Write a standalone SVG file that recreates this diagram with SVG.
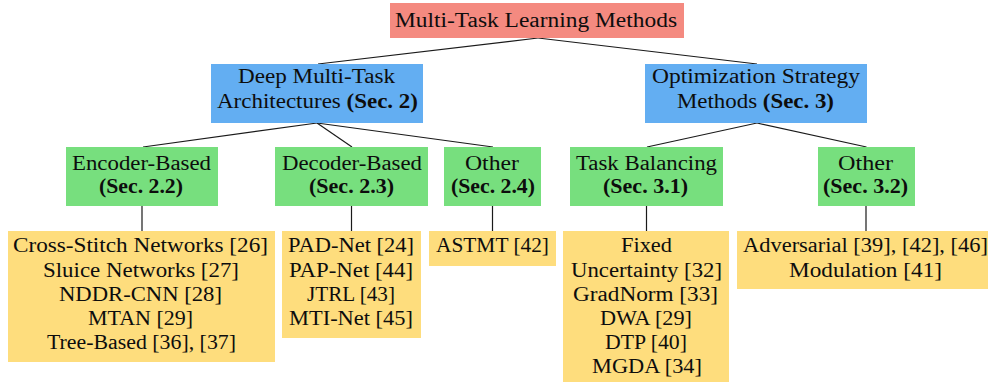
<svg xmlns="http://www.w3.org/2000/svg" width="992" height="383" viewBox="0 0 992 383">
<style>
text{font-family:"Liberation Serif","Times New Roman",serif;font-size:20px;fill:#0d0d0d;text-anchor:middle}
.b{font-weight:bold}
.root{fill:#F48A80}
.l2{fill:#63AEF2}
.l3{fill:#77DF7E}
.leaf{fill:#FEDD7D}
.c{stroke:#1a1a1a;stroke-width:1.2;fill:none}
</style>
<rect width="992" height="383" fill="#fff"/>
<g id="connectors">
<line class="c" x1="538" y1="38" x2="318" y2="64"/>
<line class="c" x1="538" y1="38" x2="757" y2="64"/>
<line class="c" x1="317" y1="123" x2="143" y2="147"/>
<line class="c" x1="317" y1="123" x2="352" y2="147"/>
<line class="c" x1="317" y1="123" x2="493" y2="147"/>
<line class="c" x1="757" y1="123" x2="647" y2="147"/>
<line class="c" x1="757" y1="123" x2="866.5" y2="147"/>
<line class="c" x1="142" y1="206" x2="142" y2="231"/>
<line class="c" x1="351.5" y1="206" x2="351.5" y2="231"/>
<line class="c" x1="492.5" y1="206" x2="492.5" y2="231"/>
<line class="c" x1="646.5" y1="206" x2="646.5" y2="231"/>
<line class="c" x1="866" y1="206" x2="866" y2="231"/>
</g>
<g id="root">
<rect class="root" x="390" y="3" width="294" height="35"/>
<text x="536" y="27" textLength="282" lengthAdjust="spacingAndGlyphs">Multi-Task Learning Methods</text>
</g>
<g id="deep">
<rect class="l2" x="211" y="64" width="212" height="59"/>
<text x="316.5" y="83" textLength="157" lengthAdjust="spacingAndGlyphs">Deep Multi-Task</text>
<text x="317.5" y="108" textLength="201" lengthAdjust="spacingAndGlyphs">Architectures <tspan class="b">(Sec. 2)</tspan></text>
</g>
<g id="opt">
<rect class="l2" x="645" y="64" width="222" height="59"/>
<text x="756" y="83" textLength="208" lengthAdjust="spacingAndGlyphs">Optimization Strategy</text>
<text x="755.5" y="108" textLength="157" lengthAdjust="spacingAndGlyphs">Methods <tspan class="b">(Sec. 3)</tspan></text>
</g>
<g id="encoder">
<rect class="l3" x="66" y="147" width="152" height="59"/>
<text x="141.5" y="170" textLength="139" lengthAdjust="spacingAndGlyphs">Encoder-Based</text>
<text class="b" x="141" y="193" textLength="84" lengthAdjust="spacingAndGlyphs">(Sec. 2.2)</text>
</g>
<g id="decoder">
<rect class="l3" x="275" y="147" width="153" height="59"/>
<text x="352" y="170" textLength="140" lengthAdjust="spacingAndGlyphs">Decoder-Based</text>
<text class="b" x="351.5" y="193" textLength="85" lengthAdjust="spacingAndGlyphs">(Sec. 2.3)</text>
</g>
<g id="other24">
<rect class="l3" x="444" y="147" width="97" height="59"/>
<text x="492" y="170" textLength="54" lengthAdjust="spacingAndGlyphs">Other</text>
<text class="b" x="493" y="193" textLength="84" lengthAdjust="spacingAndGlyphs">(Sec. 2.4)</text>
</g>
<g id="taskbal">
<rect class="l3" x="570" y="147" width="153" height="59"/>
<text x="646.5" y="170" textLength="141" lengthAdjust="spacingAndGlyphs">Task Balancing</text>
<text class="b" x="645.5" y="193" textLength="85" lengthAdjust="spacingAndGlyphs">(Sec. 3.1)</text>
</g>
<g id="other32">
<rect class="l3" x="818" y="147" width="97" height="59"/>
<text x="865.5" y="170" textLength="55" lengthAdjust="spacingAndGlyphs">Other</text>
<text class="b" x="865.5" y="193" textLength="85" lengthAdjust="spacingAndGlyphs">(Sec. 3.2)</text>
</g>
<g id="leaf-encoder">
<rect class="leaf" x="8" y="231" width="267" height="131"/>
<text x="140.5" y="252" textLength="255" lengthAdjust="spacingAndGlyphs">Cross-Stitch Networks [26]</text>
<text x="141" y="276.5" textLength="196" lengthAdjust="spacingAndGlyphs">Sluice Networks [27]</text>
<text x="140.5" y="301" textLength="163" lengthAdjust="spacingAndGlyphs">NDDR-CNN [28]</text>
<text x="140.5" y="325" textLength="105" lengthAdjust="spacingAndGlyphs">MTAN [29]</text>
<text x="141.5" y="349" textLength="189" lengthAdjust="spacingAndGlyphs">Tree-Based [36], [37]</text>
</g>
<g id="leaf-decoder">
<rect class="leaf" x="282" y="231" width="139" height="107"/>
<text x="351" y="252" textLength="126" lengthAdjust="spacingAndGlyphs">PAD-Net [24]</text>
<text x="351" y="276.5" textLength="124" lengthAdjust="spacingAndGlyphs">PAP-Net [44]</text>
<text x="351" y="301" textLength="88" lengthAdjust="spacingAndGlyphs">JTRL [43]</text>
<text x="351" y="325" textLength="124" lengthAdjust="spacingAndGlyphs">MTI-Net [45]</text>
</g>
<g id="leaf-other24">
<rect class="leaf" x="429" y="231" width="127" height="35"/>
<text x="492.5" y="252" textLength="113" lengthAdjust="spacingAndGlyphs">ASTMT [42]</text>
</g>
<g id="leaf-taskbal">
<rect class="leaf" x="563" y="231" width="166" height="151"/>
<text x="646.5" y="252" textLength="51" lengthAdjust="spacingAndGlyphs">Fixed</text>
<text x="646.5" y="276.5" textLength="151" lengthAdjust="spacingAndGlyphs">Uncertainty [32]</text>
<text x="645.5" y="301" textLength="145" lengthAdjust="spacingAndGlyphs">GradNorm [33]</text>
<text x="646" y="325" textLength="92" lengthAdjust="spacingAndGlyphs">DWA [29]</text>
<text x="646" y="349" textLength="82" lengthAdjust="spacingAndGlyphs">DTP [40]</text>
<text x="647" y="373" textLength="110" lengthAdjust="spacingAndGlyphs">MGDA [34]</text>
</g>
<g id="leaf-other32">
<rect class="leaf" x="737" y="231" width="251" height="58"/>
<text x="865.5" y="252" textLength="245" lengthAdjust="spacingAndGlyphs">Adversarial [39], [42], [46]</text>
<text x="865.5" y="276.5" textLength="153" lengthAdjust="spacingAndGlyphs">Modulation [41]</text>
</g>
</svg>
